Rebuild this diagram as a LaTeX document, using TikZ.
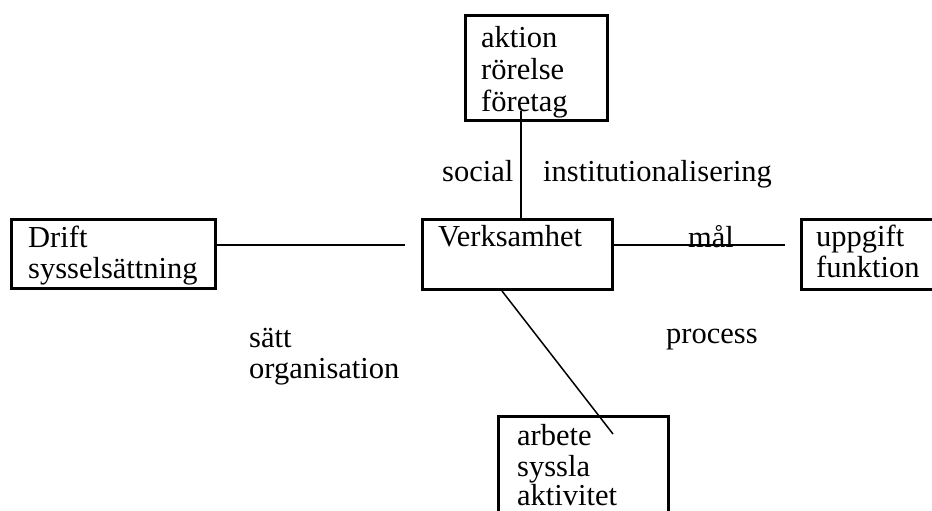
\documentclass[tikz,border=0pt]{standalone}
\usepackage{fontspec}
\setmainfont{Liberation Serif}
\begin{document}
\begin{tikzpicture}[x=1pt,y=-1pt,
  box/.style={draw=black,line width=3pt,inner sep=0pt},
  txt/.style={anchor=base west,inner sep=0pt,font=\fontsize{30.5}{32}\selectfont,align=left},
  conn/.style={draw=black,line width=1.5pt}]
\useasboundingbox[fill=white] (0,0) rectangle (932,511);
% boxes
\draw[box] (465,16) rectangle (607,120);
\draw[box] (11,219) rectangle (215,288);
\draw[box] (422,219) rectangle (612,289);
\draw[box] (801,219) rectangle (940,289);
\draw[box] (498,416) rectangle (668,520);
% box texts
\node[txt] (top1) at (481,48) {aktion};
\node[txt] (top2) at (481,80) {rörelse};
\node[txt] (top3) at (481,111) {företag};
\node[txt] (l1) at (28,247) {Drift};
\node[txt] (l2) at (28,278) {sysselsättning};
\node[txt] (c1) at (438,246) {Verksamhet};
\node[txt] (r1) at (816,246) {uppgift};
\node[txt] (r2) at (816,277) {funktion};
\node[txt] (b1) at (517,445) {arbete};
\node[txt] (b2) at (517,476) {syssla};
\node[txt] (b3) at (517,505) {aktivitet};
% labels
\node[txt] (social) at (442,181) {social};
\node[txt] (inst) at (543,181) {institutionalisering};
\node[txt] (satt) at (249,347) {sätt};
\node[txt] (org) at (249,378) {organisation};
\node[txt] (proc) at (666,343) {process};
\node[txt] (mal) at (688,247) {mål};
% connector endpoints
\coordinate (v1) at (521,111);
\coordinate (v2) at (521,218);
\coordinate (h1) at (217,245);
\coordinate (h2) at (405,245);
\coordinate (h3) at (614,245);
\coordinate (h4) at (785,245);
\coordinate (d1) at (502,291);
\coordinate (d2) at (613,434);
\draw[conn] (v1) -- (v2);
\draw[conn] (h1) -- (h2);
\draw[conn] (h3) -- (h4);
\draw[conn] (d1) -- (d2);
\end{tikzpicture}
\end{document}
